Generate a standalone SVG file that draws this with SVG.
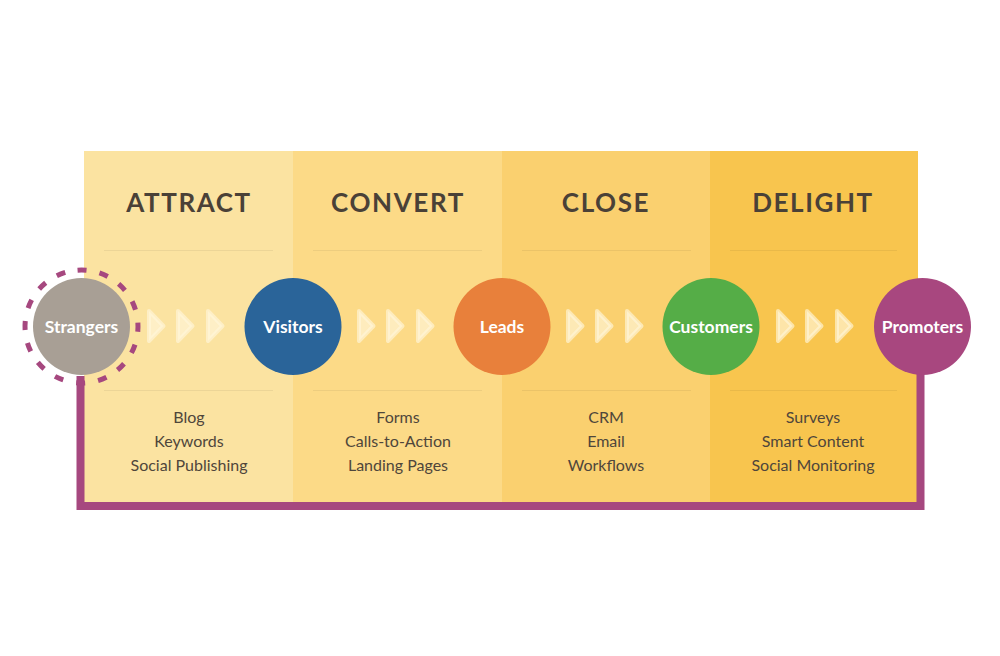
<svg xmlns="http://www.w3.org/2000/svg" width="1000" height="656" viewBox="0 0 1000 656">
<defs>
<style>
.title{font-family:Lato,"Open Sans",sans-serif;font-weight:700;font-size:26px;fill:#4a4137;text-anchor:middle;letter-spacing:1.6px}
.item{font-family:Lato,"Open Sans",sans-serif;font-size:16px;fill:#4f463b;text-anchor:middle}
.lbl{font-family:Lato,"Open Sans",sans-serif;font-weight:700;font-size:17.5px;fill:#ffffff;text-anchor:middle}
.div{stroke:#000;stroke-opacity:0.06;stroke-width:1}
.chev{fill:#fff6da;fill-opacity:0.65;stroke:#fff6da;stroke-opacity:0.65;stroke-width:4;stroke-linejoin:round}
</style>
<polygon id="tri" points="2,-15 16.5,0 2,15"/>
</defs>
<rect width="1000" height="656" fill="#ffffff"/>
<g id="columns">
<rect x="84" y="151" width="209" height="352" fill="#fbe3a1"/>
<rect x="293" y="151" width="209" height="352" fill="#fcda87"/>
<rect x="502" y="151" width="208" height="352" fill="#fad06f"/>
<rect x="710" y="151" width="208" height="352" fill="#f8c54e"/>
<line class="div" x1="104" y1="250.5" x2="273" y2="250.5"/>
<line class="div" x1="313" y1="250.5" x2="482" y2="250.5"/>
<line class="div" x1="522" y1="250.5" x2="691" y2="250.5"/>
<line class="div" x1="730" y1="250.5" x2="897" y2="250.5"/>
<line class="div" x1="104" y1="390.5" x2="273" y2="390.5"/>
<line class="div" x1="313" y1="390.5" x2="482" y2="390.5"/>
<line class="div" x1="522" y1="390.5" x2="691" y2="390.5"/>
<line class="div" x1="730" y1="390.5" x2="897" y2="390.5"/>
<text class="title" x="189" y="211.5">ATTRACT</text>
<text class="title" x="398" y="211.5">CONVERT</text>
<text class="title" x="606" y="211.5">CLOSE</text>
<text class="title" x="813" y="211.5">DELIGHT</text>
<text class="item" x="189" y="423">Blog</text>
<text class="item" x="189" y="447">Keywords</text>
<text class="item" x="189" y="471">Social Publishing</text>
<text class="item" x="398" y="423">Forms</text>
<text class="item" x="398" y="447">Calls-to-Action</text>
<text class="item" x="398" y="471">Landing Pages</text>
<text class="item" x="606" y="423">CRM</text>
<text class="item" x="606" y="447">Email</text>
<text class="item" x="606" y="471">Workflows</text>
<text class="item" x="813" y="423">Surveys</text>
<text class="item" x="813" y="447">Smart Content</text>
<text class="item" x="813" y="471">Social Monitoring</text>
</g>
<g id="connectors">
<polyline points="80.5,376 80.5,506 920.5,506 920.5,370" fill="none" stroke="#a6487f" stroke-width="8"/>
<g class="chev">
<use href="#tri" x="147" y="326"/><use href="#tri" x="176" y="326"/><use href="#tri" x="206" y="326"/>
<use href="#tri" x="357" y="326"/><use href="#tri" x="386" y="326"/><use href="#tri" x="416" y="326"/>
<use href="#tri" x="566" y="326"/><use href="#tri" x="595" y="326"/><use href="#tri" x="625" y="326"/>
<use href="#tri" x="776" y="326"/><use href="#tri" x="805" y="326"/><use href="#tri" x="835" y="326"/>
</g>
</g>
<g id="strangers">
<circle cx="81.5" cy="326.5" r="56.5" fill="none" stroke="#a6487f" stroke-width="5" stroke-dasharray="9 13.19" transform="rotate(-94 81.5 326.5)"/>
<circle cx="81.5" cy="326.5" r="48.5" fill="#a89f95"/>
<text class="lbl" x="81.5" y="332.5">Strangers</text>
</g>
<g id="visitors">
<circle cx="293" cy="326.5" r="48.5" fill="#2a6499"/>
<text class="lbl" x="293" y="332.5">Visitors</text>
</g>
<g id="leads">
<circle cx="502" cy="326.5" r="48.5" fill="#e8803b"/>
<text class="lbl" x="502" y="332.5">Leads</text>
</g>
<g id="customers">
<circle cx="711" cy="326.5" r="48.5" fill="#55ad47"/>
<text class="lbl" x="711" y="332.5">Customers</text>
</g>
<g id="promoters">
<circle cx="922.5" cy="326.5" r="48.5" fill="#a8477f"/>
<text class="lbl" x="922.5" y="332.5">Promoters</text>
</g>
</svg>
